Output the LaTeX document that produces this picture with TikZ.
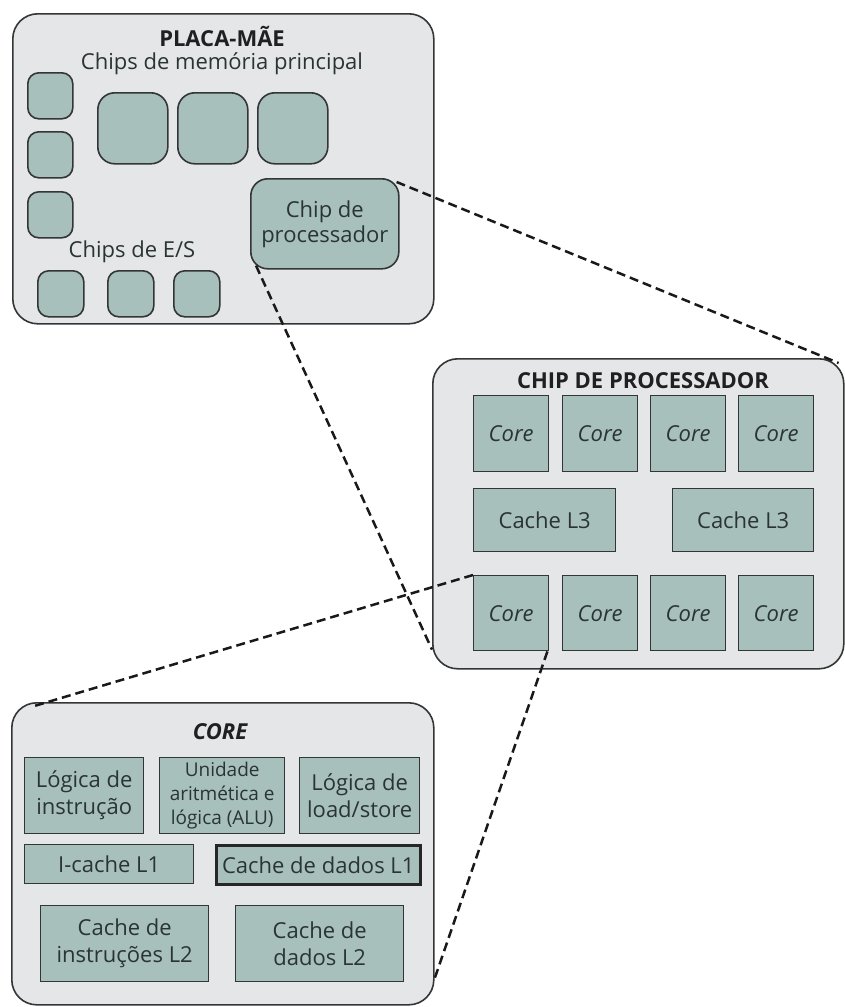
\documentclass[tikz,border=0pt]{standalone}
\usepackage{fontspec}
\setmainfont{Open Sans}
\usetikzlibrary{calc}
\definecolor{chipfill}{HTML}{A7C0BC}
\definecolor{boardfill}{HTML}{E4E6E8}
\definecolor{edge}{HTML}{333536}
\definecolor{chiptext}{HTML}{2A3433}
\definecolor{titletext}{HTML}{1E2021}
\begin{document}
\begin{tikzpicture}[x=1pt,y=-1pt,
  board/.style={draw=edge,line width=1.6pt,fill=boardfill,rounded corners=25pt,anchor=north west,inner sep=0pt},
  rchip/.style={draw=edge,line width=1.6pt,fill=chipfill,rounded corners=11pt,anchor=north west,inner sep=0pt},
  bchip/.style={rchip,rounded corners=17pt},
  sq/.style={draw=edge,line width=1.4pt,fill=chipfill,anchor=north west,inner sep=0pt,text=chiptext,align=center,
    font=\fontsize{22}{27}\selectfont},
  coresq/.style={sq,font=\fontsize{22}{26}\selectfont\itshape},
  ttl/.style={text=titletext,font=\fontsize{22}{26}\selectfont\bfseries,inner sep=0pt},
  lbl/.style={text=chiptext,font=\fontsize{22}{26}\selectfont,inner sep=0pt},
  link/.style={draw=black!90,line width=2.5pt,dash pattern=on 9pt off 5pt}]
\useasboundingbox (0,0) rectangle (845,1007);
% ---------- motherboard ----------
\node[board,minimum width=421pt,minimum height=310pt] (mb) at (12,13) {};
\node[ttl] (mbt) at (222,36) {PLACA-MÃE};
\node[lbl] (meml) at (222,64) {Chips de memória principal};
\node[rchip,minimum width=45pt,minimum height=46pt] (l1) at (27,72) {};
\node[rchip,minimum width=45pt,minimum height=46pt] (l2) at (27,131) {};
\node[rchip,minimum width=45pt,minimum height=46pt] (l3) at (27,191) {};
\node[bchip,minimum width=70pt,minimum height=71pt] (m1) at (97,92) {};
\node[bchip,minimum width=70pt,minimum height=71pt] (m2) at (177,92) {};
\node[bchip,minimum width=70pt,minimum height=71pt] (m3) at (257,92) {};
\node[bchip,minimum width=148pt,minimum height=90pt,text=chiptext,align=center,
  font=\fontsize{22}{25}\selectfont] (pc) at (250,178) {Chip de\\processador};
\node[lbl] (iol) at (132,252) {Chips de E/S};
\node[rchip,minimum width=46pt,minimum height=46pt] (io1) at (37,270) {};
\node[rchip,minimum width=46pt,minimum height=46pt] (io2) at (107,270) {};
\node[rchip,minimum width=46pt,minimum height=46pt] (io3) at (173,270) {};
% ---------- processor chip ----------
\node[board,minimum width=411pt,minimum height=310pt] (cb) at (432,358) {};
\node[ttl] (cbt) at (643,381) {CHIP DE PROCESSADOR};
\node[coresq,minimum width=75pt,minimum height=76pt] (c1) at (473,395) {Core};
\node[coresq,minimum width=75pt,minimum height=76pt] (c2) at (562,395) {Core};
\node[coresq,minimum width=75pt,minimum height=76pt] (c3) at (650,395) {Core};
\node[coresq,minimum width=75pt,minimum height=76pt] (c4) at (738,395) {Core};
\node[sq,minimum width=142pt,minimum height=63pt] (l3a) at (473,488) {Cache L3};
\node[sq,minimum width=141pt,minimum height=63pt] (l3b) at (672,488) {Cache L3};
\node[coresq,minimum width=75pt,minimum height=75pt] (c5) at (473,575) {Core};
\node[coresq,minimum width=75pt,minimum height=75pt] (c6) at (562,575) {Core};
\node[coresq,minimum width=75pt,minimum height=75pt] (c7) at (650,575) {Core};
\node[coresq,minimum width=75pt,minimum height=75pt] (c8) at (738,575) {Core};
% ---------- core ----------
\node[board,minimum width=422pt,minimum height=302pt] (co) at (11,702) {};
\node[ttl,font=\fontsize{22}{26}\selectfont\bfseries\itshape] (cot) at (220,732) {CORE};
\node[sq,minimum width=119pt,minimum height=76pt] (li) at (24,757) {Lógica de\\instrução};
\node[sq,minimum width=125pt,minimum height=76pt,font=\fontsize{19}{24}\selectfont] (alu) at (159,757) {Unidade\\aritmética e\\lógica (ALU)};
\node[sq,minimum width=120pt,minimum height=76pt] (ls) at (299,757) {Lógica de\\load/store};
\node[sq,minimum width=169pt,minimum height=39pt] (ic) at (24,844) {I-cache L1};
\node[sq,minimum width=204pt,minimum height=39pt,line width=2.6pt,draw=black!85] (dc) at (215,844) {Cache de dados L1};
\node[sq,minimum width=168pt,minimum height=76pt] (il2) at (40,905) {Cache de\\instruções L2};
\node[sq,minimum width=168pt,minimum height=76pt] (dl2) at (235,905) {Cache de\\dados L2};
% ---------- zoom lines ----------
\draw[link] ($(pc.north east)+(-3,4)$) -- ($(cb.north east)+(-6,5)$);
\draw[link] ($(pc.south west)+(6,-4)$) -- ($(cb.south west)+(0,-20)$);
\draw[link] (c5.north west) -- ($(co.north west)+(20,5)$);
\draw[link] ($(c5.south east)+(-2,0)$) -- ($(co.south east)+(0,-27)$);
\end{tikzpicture}
\end{document}
